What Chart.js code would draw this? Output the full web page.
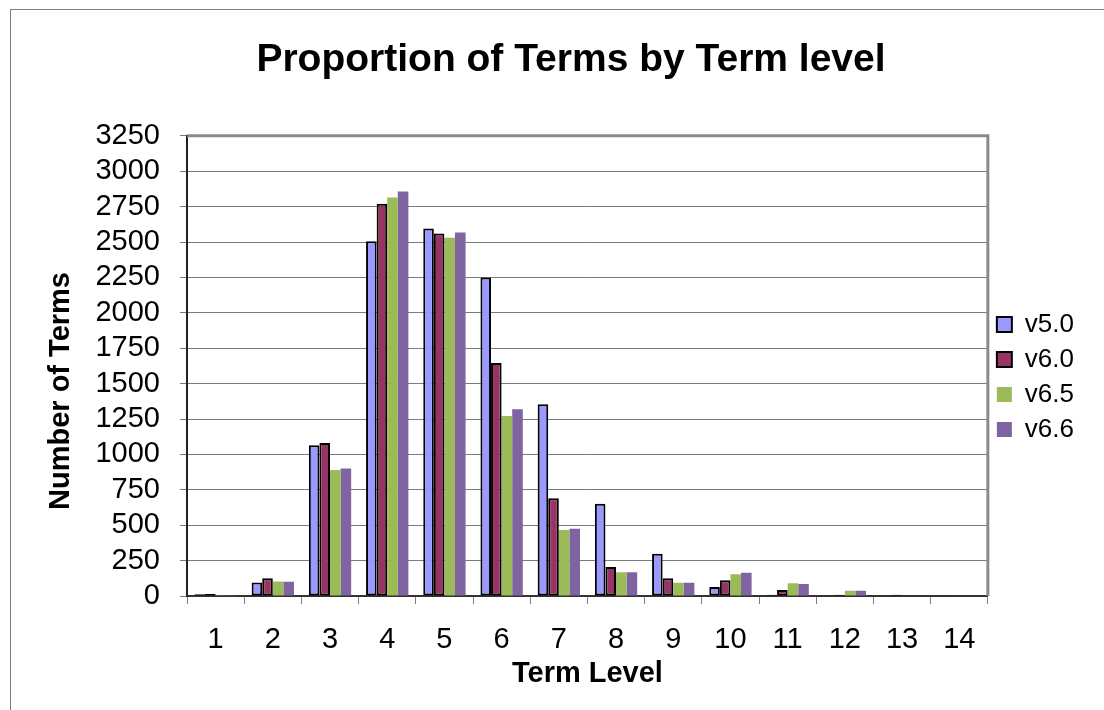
<!DOCTYPE html>
<html>
<head>
<meta charset="utf-8">
<title>Proportion of Terms by Term level</title>
<script src="https://cdn.jsdelivr.net/npm/chart.js@4/dist/chart.umd.min.js"></script>
<style>
  html, body { margin: 0; padding: 0; background: #fff; }
  canvas { display: block; }
</style>
</head>
<body>
<canvas id="chart" width="1104" height="710"></canvas>
<script>
// data
const termLevels = ['1', '2', '3', '4', '5', '6', '7', '8', '9', '10', '11', '12', '13', '14']
const v50 = [12, 95, 1065, 2505, 2595, 2250, 1355, 652, 299, 64, 8, 4, 3, 1]
const v60 = [15, 125, 1080, 2770, 2560, 1645, 690, 205, 125, 111, 42, 8, 8, 0]
const v65 = [5, 103, 890, 2815, 2530, 1272, 466, 167, 94, 153, 90, 37, 3, 0]
const v66 = [5, 100, 900, 2857, 2567, 1319, 475, 167, 94, 165, 85, 37, 3, 0]
const yTicks = { min: 0, max: 3250, step: 250 }

Chart.defaults.font.family = "'Liberation Sans', Arial, sans-serif"
Chart.defaults.color = '#000'

// outer frame, plot border and the y-axis title
const decorations = {
  id: 'decorations',
  beforeDraw(chart) {
    const ctx = chart.ctx
    ctx.save()
    ctx.fillStyle = '#fff'
    ctx.fillRect(0, 0, chart.width, chart.height)
    ctx.strokeStyle = '#808080'
    ctx.lineWidth = 1
    ctx.strokeRect(10.5, 9.5, 1200, 800)
    ctx.restore()
  },
  afterDraw(chart) {
    const { ctx, chartArea } = chart
    ctx.save()
    ctx.strokeStyle = '#8a8a8a'
    ctx.lineWidth = 3
    ctx.beginPath()
    ctx.moveTo(chartArea.left, chartArea.top)
    ctx.lineTo(chartArea.right, chartArea.top)
    ctx.lineTo(chartArea.right, chartArea.bottom)
    ctx.stroke()

    ctx.translate(61, 391)
    ctx.rotate(-Math.PI / 2)
    ctx.font = "bold 29px 'Liberation Sans', Arial, sans-serif"
    ctx.fillStyle = '#000'
    ctx.textAlign = 'center'
    ctx.textBaseline = 'middle'
    ctx.fillText('Number of Terms', 0, 0)
    ctx.restore()
  }
}

const bordered = { borderColor: '#000', borderWidth: 2, borderSkipped: false }

new Chart(document.getElementById('chart'), {
  type: 'bar',
  data: {
    labels: termLevels,
    datasets: [
      { label: 'v5.0', data: v50, backgroundColor: '#9999ff', ...bordered },
      { label: 'v6.0', data: v60, backgroundColor: '#993366', ...bordered },
      { label: 'v6.5', data: v65, backgroundColor: '#9bbb59', borderWidth: 0 },
      { label: 'v6.6', data: v66, backgroundColor: '#8064a2', borderWidth: 0 }
    ]
  },
  options: {
    responsive: false,
    animation: false,
    devicePixelRatio: 1,
    layout: { padding: { top: 0, left: 58, right: 20, bottom: 0 } },
    datasets: {
      bar: { categoryPercentage: 0.74, barPercentage: 1.0 }
    },
    plugins: {
      title: {
        display: true,
        text: 'Proportion of Terms by Term level',
        font: { size: 39, weight: 'bold' },
        color: '#000',
        padding: { top: 37, bottom: 52 }
      },
      legend: {
        position: 'right',
        title: { display: true, text: ' ', font: { size: 10 }, padding: 16 },
        labels: {
          boxWidth: 15,
          boxHeight: 15,
          padding: 9,
          font: { size: 26 },
          color: '#000'
        }
      },
      tooltip: { enabled: false }
    },
    scales: {
      x: {
        afterFit(scale) { scale.height = 114 },
        grid: {
          offset: true,
          drawOnChartArea: false,
          tickLength: 8,
          color: '#808080'
        },
        border: { color: '#333', width: 2 },
        ticks: { font: { size: 29 }, padding: 19, maxRotation: 0, autoSkip: false },
        title: {
          display: true,
          text: 'Term Level',
          font: { size: 29, weight: 'bold' },
          padding: { top: 0, bottom: 19 }
        }
      },
      y: {
        min: yTicks.min,
        max: yTicks.max,
        afterFit(scale) { scale.width = 129 },
        grid: { color: '#7a7a7a', lineWidth: 1, tickLength: 7 },
        border: { color: '#222', width: 2 },
        ticks: {
          stepSize: yTicks.step,
          autoSkip: false,
          font: { size: 29 },
          padding: 20,
          callback: (value) => String(value)
        }
      }
    }
  },
  plugins: [decorations]
})
</script>
</body>
</html>
